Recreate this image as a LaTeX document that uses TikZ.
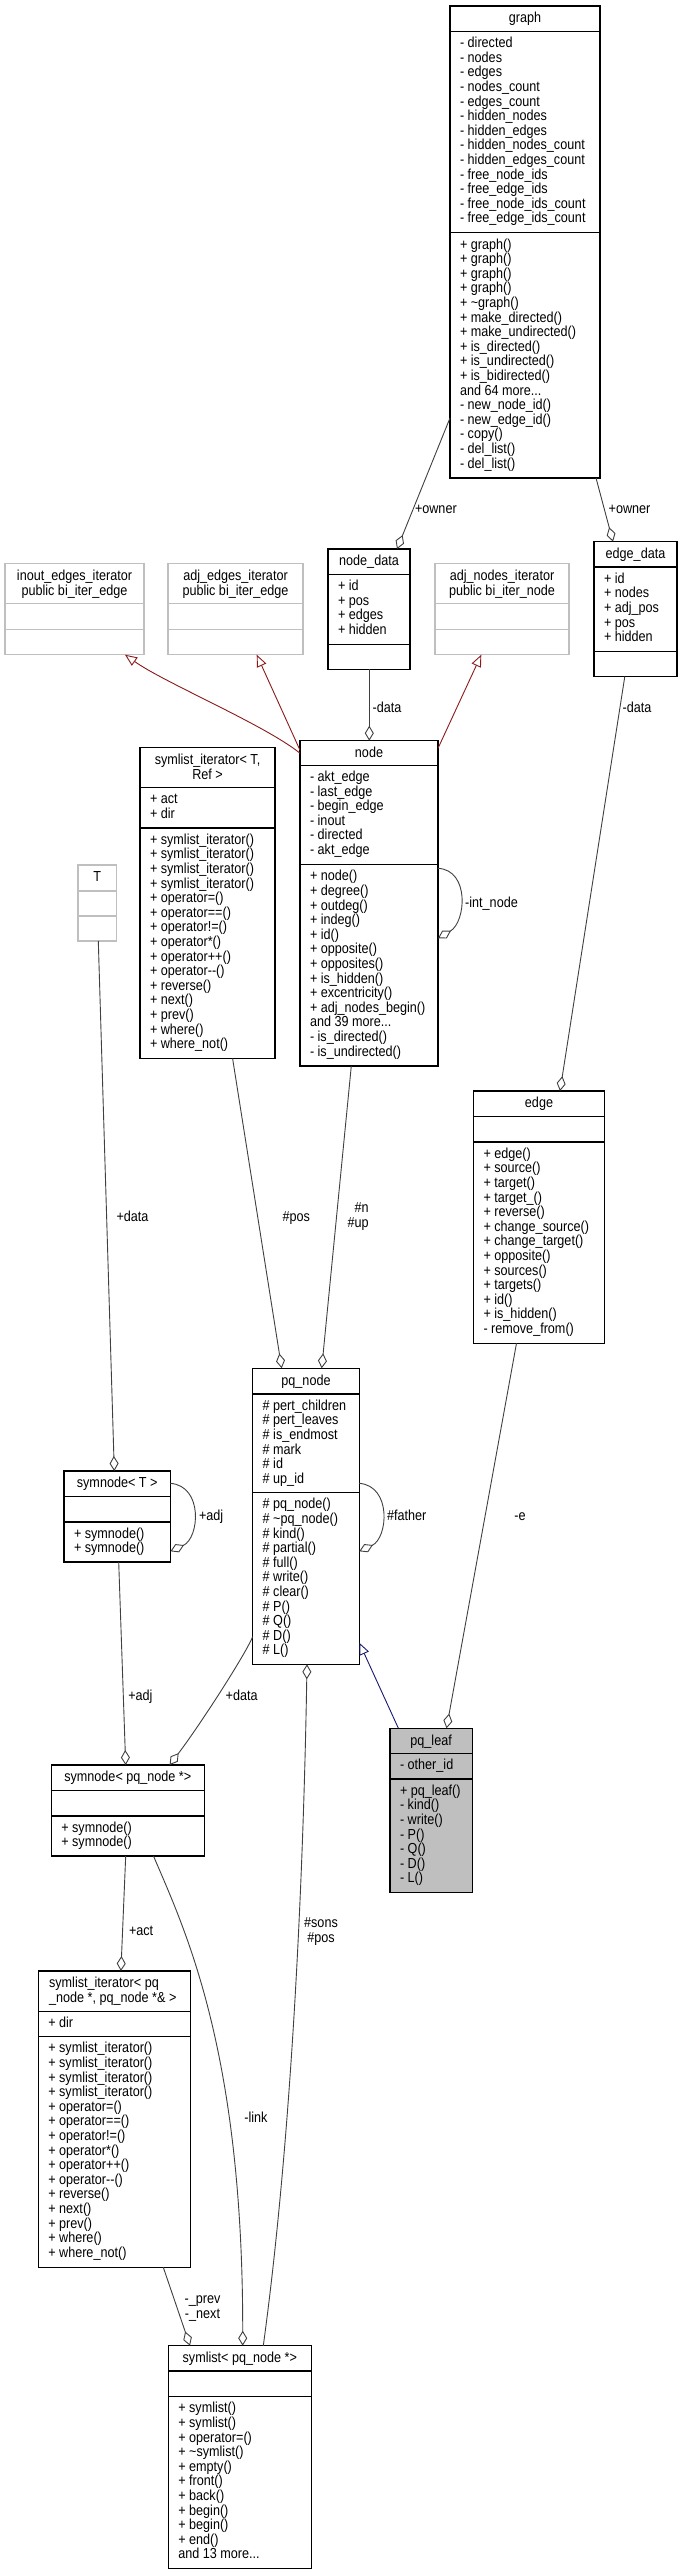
\documentclass[tikz,border=0pt]{standalone}
\usepackage{fontspec}
\setmainfont{Liberation Sans}[FakeStretch=0.87]
\usetikzlibrary{arrows.meta,calc}
\definecolor{edgegray}{HTML}{404040}
\definecolor{extgray}{HTML}{BFBFBF}
\definecolor{inhred}{HTML}{8B1A1A}
\definecolor{inhblue}{HTML}{191970}
\definecolor{leafgray}{HTML}{BFBFBF}
\newcommand\dfont{\fontsize{14.5}{14.6}\selectfont}
\newcommand\ctr[1]{\vtop{\baselineskip=14.6pt\lineskiplimit=-50pt\lineskip=0pt\halign{\hfil##\hfil\cr#1\crcr}}}
\newcommand\lft[1]{\vtop{\baselineskip=14.6pt\lineskiplimit=-50pt\lineskip=0pt\halign{##\hfil\cr#1\crcr}}}
\newcommand\rgt[1]{\vtop{\baselineskip=15pt\lineskiplimit=-50pt\lineskip=0pt\halign{\hfil##\cr#1\crcr}}}
\newcommand\ctrl[1]{\vtop{\baselineskip=15pt\lineskiplimit=-50pt\lineskip=0pt\halign{\hfil##\hfil\cr#1\crcr}}}
% name, style, x, y, w, h1, h2, h3
\newcommand\cbox[8]{%
 \node[#2, minimum width=#5pt, minimum height={#6+#7+#8}] (#1) at (#3,#4) {};
 \draw[#2line] ($(#1.north west)+(0,#6)$) -- ($(#1.north east)+(0,#6)$);
 \draw[#2line] ($(#1.north west)+(0,#6+#7)$) -- ($(#1.north east)+(0,#6+#7)$);
}
\newcommand\ctitle[2]{\node[anchor=base] (#1-t) at ($(#1.north)+(0,16.8)$) {\ctr{#2}};}
% name, tag, offset, lines
\newcommand\csect[4]{\node[anchor=base west] (#1-#2) at ($(#1.north west)+(10,#3+16.2)$) {\lft{#4}};}
\begin{document}
\begin{tikzpicture}[x=1pt,y=-1pt,
  every node/.style={font=\dfont, inner sep=0, outer sep=0, text=black},
  cls/.style={draw=black, line width=1.2pt, fill=white, anchor=north west},
  clsline/.style={draw=black, line width=1.2pt},
  ext/.style={draw=extgray, line width=1.2pt, fill=white, anchor=north west},
  extline/.style={draw=extgray, line width=1.2pt},
  leaf/.style={draw=black, line width=1.2pt, fill=leafgray, anchor=north west},
  leafline/.style={draw=black, line width=1.2pt},
  assoc/.style={draw=edgegray, line width=0.9pt, -{Diamond[open, length=15pt, width=9pt, line width=0.9pt]}},
  inhR/.style={draw=inhred, line width=0.9pt, -{Triangle[open, length=12pt, width=10pt, line width=0.9pt]}},
  inhB/.style={draw=inhblue, line width=0.9pt, -{Triangle[open, length=12pt, width=10pt, line width=0.9pt]}},
  lab/.style={anchor=base west}
]
\useasboundingbox[fill=white] (0,0) rectangle (683,2575);

% graph
\cbox{graph}{cls}{450}{6}{150}{25.5}{201.3}{245.1}
\ctitle{graph}{graph}
\csect{graph}{a}{25.5}{- directed\cr - nodes\cr - edges\cr - nodes\_count\cr - edges\_count\cr - hidden\_nodes\cr - hidden\_edges\cr - hidden\_nodes\_count\cr - hidden\_edges\_count\cr - free\_node\_ids\cr - free\_edge\_ids\cr - free\_node\_ids\_count\cr - free\_edge\_ids\_count}
\csect{graph}{m}{226.8}{+ graph()\cr + graph()\cr + graph()\cr + graph()\cr + \textasciitilde graph()\cr + make\_directed()\cr + make\_undirected()\cr + is\_directed()\cr + is\_undirected()\cr + is\_bidirected()\cr and 64 more...\cr - new\_node\_id()\cr - new\_edge\_id()\cr - copy()\cr - del\_list()\cr - del\_list()}

% node_data
\cbox{nodedata}{cls}{328}{549}{82}{25.3}{69.9}{25}
\ctitle{nodedata}{node\_data}
\csect{nodedata}{a}{25.3}{+ id\cr + pos\cr + edges\cr + hidden}

% edge_data
\cbox{edgedata}{cls}{594}{541.7}{83}{25.3}{84.5}{25}
\ctitle{edgedata}{edge\_data}
\csect{edgedata}{a}{25.3}{+ id\cr + nodes\cr + adj\_pos\cr + pos\cr + hidden}

% iterators (external)
\cbox{inout}{ext}{5}{563.7}{139}{39.6}{26}{25.4}
\ctitle{inout}{inout\_edges\_iterator\cr public bi\_iter\_edge}
\cbox{adjedges}{ext}{168}{563.7}{135}{39.6}{26}{25.4}
\ctitle{adjedges}{adj\_edges\_iterator\cr public bi\_iter\_edge}
\cbox{adjnodes}{ext}{435}{563.7}{134}{39.6}{26}{25.4}
\ctitle{adjnodes}{adj\_nodes\_iterator\cr public bi\_iter\_node}

% symlist_iterator< T, Ref >
\cbox{sliT}{cls}{140}{747.7}{135}{40}{40.3}{230.5}
\ctitle{sliT}{symlist\_iterator< T,\cr Ref >}
\csect{sliT}{a}{40}{+ act\cr + dir}
\csect{sliT}{m}{80.3}{+ symlist\_iterator()\cr + symlist\_iterator()\cr + symlist\_iterator()\cr + symlist\_iterator()\cr + operator=()\cr + operator==()\cr + operator!=()\cr + operator*()\cr + operator++()\cr + operator-{}-()\cr + reverse()\cr + next()\cr + prev()\cr + where()\cr + where\_not()}

% node
\cbox{node}{cls}{300}{740.7}{138}{24.6}{99.4}{201.3}
\ctitle{node}{node}
\csect{node}{a}{24.6}{- akt\_edge\cr - last\_edge\cr - begin\_edge\cr - inout\cr - directed\cr - akt\_edge}
\csect{node}{m}{124}{+ node()\cr + degree()\cr + outdeg()\cr + indeg()\cr + id()\cr + opposite()\cr + opposites()\cr + is\_hidden()\cr + excentricity()\cr + adj\_nodes\_begin()\cr and 39 more...\cr - is\_directed()\cr - is\_undirected()}

% T
\cbox{T}{ext}{78}{865}{38.5}{26}{25}{25}
\ctitle{T}{T}

% edge
\cbox{edge}{cls}{473.5}{1091}{131}{25.3}{25.7}{201.3}
\ctitle{edge}{edge}
\csect{edge}{m}{51}{+ edge()\cr + source()\cr + target()\cr + target\_()\cr + reverse()\cr + change\_source()\cr + change\_target()\cr + opposite()\cr + sources()\cr + targets()\cr + id()\cr + is\_hidden()\cr - remove\_from()}

% pq_node
\cbox{pqnode}{cls}{252.7}{1368.3}{106.6}{25.7}{98.7}{171.6}
\ctitle{pqnode}{pq\_node}
\csect{pqnode}{a}{25.7}{\# pert\_children\cr \# pert\_leaves\cr \# is\_endmost\cr \# mark\cr \# id\cr \# up\_id}
\csect{pqnode}{m}{124.4}{\# pq\_node()\cr \# \textasciitilde pq\_node()\cr \# kind()\cr \# partial()\cr \# full()\cr \# write()\cr \# clear()\cr \# P()\cr \# Q()\cr \# D()\cr \# L()}

% symnode< T >
\cbox{symnodeT}{cls}{64}{1471}{106.4}{25.7}{25.3}{40}
\ctitle{symnodeT}{symnode< T >}
\csect{symnodeT}{m}{51}{+ symnode()\cr + symnode()}

% pq_leaf
\cbox{pqleaf}{leaf}{390}{1728.3}{82.2}{25}{25.7}{113.3}
\ctitle{pqleaf}{pq\_leaf}
\csect{pqleaf}{a}{25}{- other\_id}
\csect{pqleaf}{m}{50.7}{+ pq\_leaf()\cr - kind()\cr - write()\cr - P()\cr - Q()\cr - D()\cr - L()}

% symnode< pq_node *>
\cbox{symnodePQ}{cls}{51.3}{1765}{153}{25.7}{25.3}{40}
\ctitle{symnodePQ}{symnode< pq\_node *>}
\csect{symnodePQ}{m}{51}{+ symnode()\cr + symnode()}

% symlist_iterator< pq_node *, pq_node *& >
\cbox{sliPQ}{cls}{38.3}{1971}{152.1}{40.3}{25.4}{230.6}
\node[anchor=base west] (sliPQ-t) at ($(sliPQ.north west)+(10.8,16.8)$) {\lft{symlist\_iterator< pq\cr \_node *, pq\_node *\& >}};
\csect{sliPQ}{a}{40.3}{+ dir}
\csect{sliPQ}{m}{65.7}{+ symlist\_iterator()\cr + symlist\_iterator()\cr + symlist\_iterator()\cr + symlist\_iterator()\cr + operator=()\cr + operator==()\cr + operator!=()\cr + operator*()\cr + operator++()\cr + operator-{}-()\cr + reverse()\cr + next()\cr + prev()\cr + where()\cr + where\_not()}

% symlist< pq_node *>
\cbox{symlist}{cls}{168.3}{2345.7}{143}{25.3}{25.7}{172}
\ctitle{symlist}{symlist< pq\_node *>}
\csect{symlist}{m}{51}{+ symlist()\cr + symlist()\cr + operator=()\cr + \textasciitilde symlist()\cr + empty()\cr + front()\cr + back()\cr + begin()\cr + begin()\cr + end()\cr and 13 more...}

% ---------- connectors ----------
\draw[assoc] ($(graph.north west)+(0,412)$) -- ($(nodedata.north west)+(69,0)$);
\node[lab] (l-owner1) at (415,513.5) {+owner};
\draw[assoc] ($(graph.south west)+(146,0)$) -- ($(edgedata.north west)+(19,0)$);
\node[lab] (l-owner2) at (608.7,513.5) {+owner};

\draw[inhR] ($(node.north west)+(0,12.5)$) .. controls (265,725) and (165,683) .. ($(inout.south west)+(120,0)$);
\draw[inhR] ($(node.north west)+(0,9.5)$) -- ($(adjedges.south west)+(88.7,0)$);
\draw[inhR] ($(node.north east)+(0,7.6)$) -- ($(adjnodes.south west)+(46.3,0)$);

\draw[assoc] ($(nodedata.south west)+(41.3,0)$) -- ($(node.north west)+(69.3,0)$);
\node[lab] (l-data1) at (372.7,712) {-data};
\draw[assoc] ($(edgedata.south west)+(30.8,0)$) -- ($(edge.north west)+(86.5,0)$);
\node[lab] (l-data2) at (622.6,712) {-data};

\draw[assoc] ($(node.north east)+(0,127.6)$) .. controls (470,870) and (466,922) .. ($(node.north east)+(0,197.6)$);
\node[lab] (l-intnode) at (465.2,907) {-int\_node};

\draw[assoc] ($(T.south west)+(20.3,0)$) -- ($(symnodeT.north west)+(50.3,0)$);
\node[lab] (l-data3) at (116.5,1221) {+data};

\draw[assoc] ($(sliT.south west)+(92.6,0)$) -- ($(pqnode.north west)+(29,0)$);
\node[lab] (l-pos1) at (282.6,1221) {\#pos};

\draw[assoc] ($(node.south west)+(51.3,0)$) -- ($(pqnode.north west)+(69,0)$);
\node[anchor=base east] (l-nup) at (368.7,1212.5) {\rgt{\#n\cr \#up}};

\draw[assoc] ($(edge.south west)+(43,0)$) -- ($(pqleaf.north west)+(56.5,0)$);
\node[lab] (l-e) at (514.3,1520) {-e};

\draw[assoc] ($(pqnode.north east)+(0,115)$) .. controls (392,1486) and (388,1538) .. ($(pqnode.north east)+(0,183)$);
\node[lab] (l-father) at (387,1520) {\#father};

\draw[assoc] ($(symnodeT.north east)+(0,12.3)$) .. controls (203.5,1486) and (199.5,1538) .. ($(symnodeT.north east)+(0,80.3)$);
\node[lab] (l-adj1) at (199,1520) {+adj};

\draw[inhB] ($(pqleaf.north west)+(8.4,0)$) -- ($(pqnode.north east)+(0,274.4)$);

\draw[assoc] ($(symnodeT.south west)+(54.7,0)$) -- ($(symnodePQ.north west)+(74.4,0)$);
\node[lab] (l-adj2) at (128.3,1700.5) {+adj};

\draw[assoc] ($(pqnode.north west)+(0,268.4)$) .. controls (245,1655) and (200,1725) .. ($(symnodePQ.north west)+(118.3,0)$);
\node[lab] (l-data4) at (225.7,1700.5) {+data};

\draw[assoc] ($(symlist.north west)+(95,0)$) .. controls (290,2150) and (303,1900) .. ($(pqnode.south west)+(54.3,0)$);
\node[anchor=base] (l-sons) at (321,1927.8) {\ctrl{\#sons\cr \#pos}};

\draw[assoc] ($(symnodePQ.south west)+(102.2,0)$) .. controls (185,1930) and (243,2050) .. ($(symlist.north west)+(74.4,0)$);
\node[lab] (l-link) at (244.3,2122.8) {-link};

\draw[assoc] ($(symnodePQ.south west)+(74.4,0)$) -- ($(sliPQ.north west)+(82.6,0)$);
\node[lab] (l-act) at (129,1935) {+act};

\draw[assoc] ($(sliPQ.south west)+(125,0)$) -- ($(symlist.north west)+(21.7,0)$);
\node[anchor=base] (l-prev) at (202.5,2303.5) {\ctrl{-\_prev\cr -\_next}};
\end{tikzpicture}
\end{document}
